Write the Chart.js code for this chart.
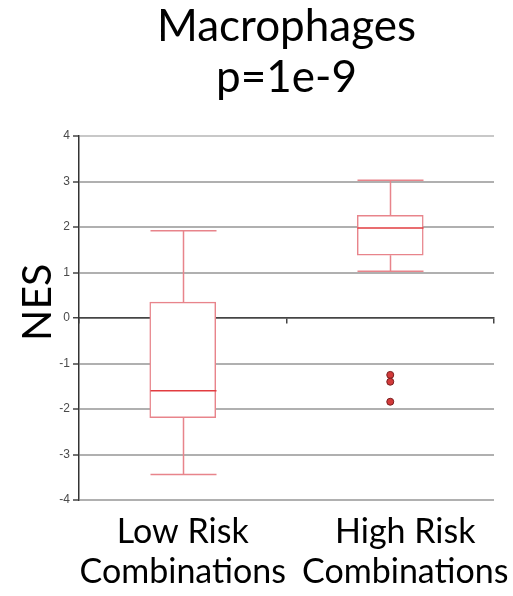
<!DOCTYPE html>
<html>
<head>
<meta charset="utf-8">
<script src="https://cdn.jsdelivr.net/npm/chart.js@4"></script>
<style>
  html, body { margin: 0; padding: 0; background: #fff; }
  #wrap { width: 513px; height: 596px; }
</style>
</head>
<body>
<div id="wrap"><canvas id="chart" width="513" height="596"></canvas></div>
<script>
const categories = ['Low Risk Combinations', 'High Risk Combinations'];
const categoryLines = [['Low Risk', 'Combinations'], ['High Risk', 'Combinations']];
const whiskerLow = [-3.44, 1.03];
const q1 = [-2.19, 1.38];
const median = [-1.60, 1.98];
const q3 = [0.35, 2.26];
const whiskerHigh = [1.92, 3.03];
const outlierCategory = 'High Risk Combinations';
const outlierValues = [-1.25, -1.40, -1.84];
const yTicks = [-4, -3, -2, -1, 0, 1, 2, 3, 4];

const boxColor = '#e8848b';
const medianColor = '#e23c40';

// whiskers, caps and medians drawn on top of the floating bars
const whiskerPlugin = {
    id: 'whiskers',
    afterDatasetsDraw(chart, args, opts) {
        const ctx = chart.ctx;
        const x = chart.scales.x;
        const y = chart.scales.y;
        const half = opts.halfWidth;
        ctx.save();
        ctx.lineWidth = 1.5;
        categories.forEach((c, i) => {
            const cx = Math.round(x.getPixelForValue(i)) + 0.5;
            ctx.strokeStyle = boxColor;
            ctx.beginPath();
            ctx.moveTo(cx, y.getPixelForValue(q3[i]));
            ctx.lineTo(cx, y.getPixelForValue(whiskerHigh[i]));
            ctx.moveTo(cx - half, y.getPixelForValue(whiskerHigh[i]));
            ctx.lineTo(cx + half, y.getPixelForValue(whiskerHigh[i]));
            ctx.moveTo(cx, y.getPixelForValue(q1[i]));
            ctx.lineTo(cx, y.getPixelForValue(whiskerLow[i]));
            ctx.moveTo(cx - half, y.getPixelForValue(whiskerLow[i]));
            ctx.lineTo(cx + half, y.getPixelForValue(whiskerLow[i]));
            ctx.stroke();
            ctx.strokeStyle = medianColor;
            ctx.beginPath();
            ctx.moveTo(cx - half, y.getPixelForValue(median[i]));
            ctx.lineTo(cx + half, y.getPixelForValue(median[i]));
            ctx.stroke();
        });
        ctx.restore();
    }
};

// category names under the plot, two lines each
const xLabelPlugin = {
    id: 'xLabels',
    afterDraw(chart, args, opts) {
        const ctx = chart.ctx;
        const x = chart.scales.x;
        ctx.save();
        ctx.font = opts.font;
        ctx.fillStyle = '#000';
        ctx.textAlign = 'center';
        ctx.textBaseline = 'alphabetic';
        categoryLines.forEach((lines, i) => {
            const cx = x.getPixelForValue(i) + opts.shift[i];
            lines.forEach((t, k) => {
                ctx.fillText(t, cx, chart.chartArea.bottom + opts.firstBaseline + k * opts.lineStep);
            });
        });
        ctx.restore();
    }
};

const ctx = document.getElementById('chart').getContext('2d');
new Chart(ctx, {
    data: {
        labels: categories,
        datasets: [{
            type: 'bar',
            data: categories.map((c, i) => [q1[i], q3[i]]),
            backgroundColor: '#ffffff',
            borderColor: boxColor,
            borderWidth: 1.5,
            borderSkipped: false,
            barThickness: 66,
            order: 2
        }, {
            type: 'line',
            data: outlierValues.map(v => ({x: outlierCategory, y: v})),
            showLine: false,
            pointRadius: 3.5,
            pointBackgroundColor: '#d23a3a',
            pointBorderColor: '#7a1f1f',
            pointBorderWidth: 1,
            order: 1
        }]
    },
    options: {
        responsive: false,
        animation: false,
        layout: {padding: {left: 0, right: 19, top: 0, bottom: 96}},
        plugins: {
            legend: {display: false},
            tooltip: {enabled: false},
            title: {
                display: true,
                text: ['Macrophages', 'p=1e-9'],
                fullSize: false,
                color: '#000',
                font: {family: 'Lato', size: 44, weight: 'normal', lineHeight: 1.16},
                padding: {top: 1, bottom: 33}
            },
            whiskers: {halfWidth: 33},
            xLabels: {font: '34px Lato', shift: [0, 15], firstBaseline: 43, lineStep: 40}
        },
        scales: {
            x: {
                type: 'category',
                display: false,
                offset: true
            },
            x2: {
                type: 'category',
                labels: categories,
                position: {y: 0},
                offset: true,
                grid: {drawOnChartArea: false, offset: true, tickLength: 5, color: '#444', lineWidth: 1.5},
                border: {color: '#444', width: 1.5},
                ticks: {display: false}
            },
            y: {
                min: -4,
                max: 4,
                afterBuildTicks: s => { s.ticks = yTicks.map(v => ({value: v})); },
                afterFit: s => { s.width = 79; },
                ticks: {
                    font: {family: 'Liberation Sans', size: 12},
                    color: '#4a4a4a',
                    padding: 3
                },
                grid: {
                    color: c => c.tick.value === 0 ? '#555' : (c.tick.value === 4 ? '#c8c8c8' : '#b0b0b0'),
                    lineWidth: c => c.tick.value === 0 ? 1.5 : 2,
                    tickLength: 6,
                    tickColor: '#444',
                    tickWidth: 1.5
                },
                border: {color: '#333', width: 1.5},
                title: {
                    display: true,
                    text: '   NES',
                    color: '#000',
                    font: {family: 'Lato', size: 41},
                    padding: {top: 13, bottom: 0}
                }
            }
        }
    },
    plugins: [whiskerPlugin, xLabelPlugin]
});
</script>
</body>
</html>
